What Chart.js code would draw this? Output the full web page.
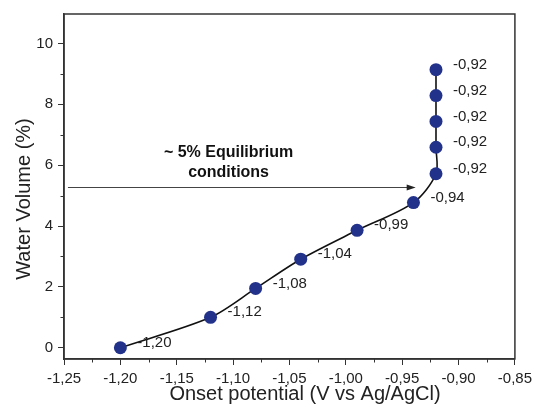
<!DOCTYPE html>
<html>
<head>
<meta charset="utf-8">
<script src="https://cdn.jsdelivr.net/npm/chart.js@4.4.0/dist/chart.umd.min.js"></script>
<style>
body { margin: 0; background: #fff; }
</style>
</head>
<body>
<canvas id="waterChart" width="537" height="410"></canvas>
<script>

/*
  data
*/

const potentials = [-1.20, -1.12, -1.08, -1.04, -0.99, -0.94, -0.92, -0.92, -0.92, -0.92, -0.92];

const waterVolumes = [0, 1.00, 1.95, 2.91, 3.86, 4.77, 5.72, 6.59, 7.44, 8.29, 9.14];

const pointLabels = ["-1,20", "-1,12", "-1,08", "-1,04", "-0,99", "-0,94", "-0,92", "-0,92", "-0,92", "-0,92", "-0,92"];

const xTickValues = [-1.25, -1.20, -1.15, -1.10, -1.05, -1.00, -0.95, -0.90, -0.85];
const xTickLabels = ["-1,25", "-1,20", "-1,15", "-1,10", "-1,05", "-1,00", "-0,95", "-0,90", "-0,85"];

const yTickValues = [0, 2, 4, 6, 8, 10];
const yTickLabels = ["0", "2", "4", "6", "8", "10"];

// arrow annotation
const arrowFromX = -1.2465;
const arrowToX = -0.938;
const arrowAtY = 5.27;
const noteLines = ["~ 5% Equilibrium", "conditions"];
const noteX = -1.104;
const noteY = [6.42, 5.76];

const xTitle = "Onset potential (V vs Ag/AgCl)";
const yTitle = "Water Volume (%)";

const FONT = "'Liberation Sans', Arial, sans-serif";
const INK = "#222";


// build points
let chartPoints = [];

potentials.forEach(function(x, i){
    chartPoints.push({ x: x, y: waterVolumes[i] });
});


// frame, minor ticks, labels, arrow, titles
const extrasPlugin = {
    id: "extras",
    afterDraw: function(chart){
        const c = chart.ctx;
        const area = chart.chartArea;
        const xs = chart.scales.x;
        const ys = chart.scales.y;

        c.save();

        // box
        c.strokeStyle = "#333";
        c.lineWidth = 1.5;
        c.strokeRect(area.left, area.top, area.right - area.left, area.bottom - area.top);

        // minor ticks
        c.lineWidth = 1;
        c.beginPath();
        for (let i = 0; i < xTickValues.length - 1; i++) {
            const px = Math.round(xs.getPixelForValue((xTickValues[i] + xTickValues[i + 1]) / 2)) + 0.5;
            c.moveTo(px, area.bottom);
            c.lineTo(px, area.bottom + 3.5);
        }
        for (let i = 0; i < yTickValues.length - 1; i++) {
            const py = Math.round(ys.getPixelForValue((yTickValues[i] + yTickValues[i + 1]) / 2)) + 0.5;
            c.moveTo(area.left, py);
            c.lineTo(area.left - 3.5, py);
        }
        c.stroke();

        // point labels
        c.fillStyle = INK;
        c.font = "15px " + FONT;
        c.textAlign = "left";
        c.textBaseline = "middle";
        chart.getDatasetMeta(0).data.forEach(function(pt, i){
            c.fillText(pointLabels[i], pt.x + 17, pt.y - 5);
        });

        // arrow
        const ax1 = xs.getPixelForValue(arrowFromX);
        const ax2 = xs.getPixelForValue(arrowToX);
        const ay = Math.round(ys.getPixelForValue(arrowAtY)) + 0.5;
        c.strokeStyle = "#444";
        c.lineWidth = 1;
        c.beginPath();
        c.moveTo(ax1, ay);
        c.lineTo(ax2 - 6, ay);
        c.stroke();
        c.fillStyle = "#222";
        c.beginPath();
        c.moveTo(ax2, ay);
        c.lineTo(ax2 - 9, ay - 3);
        c.lineTo(ax2 - 9, ay + 3);
        c.closePath();
        c.fill();

        // note text
        c.font = "bold 16px " + FONT;
        c.textAlign = "center";
        c.fillStyle = "#111";
        noteLines.forEach(function(t, i){
            c.fillText(t, xs.getPixelForValue(noteX), ys.getPixelForValue(noteY[i]));
        });

        // axis titles
        c.font = "20px " + FONT;
        c.fillStyle = INK;
        c.textBaseline = "alphabetic";
        c.fillText(xTitle, 305, 400);

        c.translate(30, 199);
        c.rotate(-Math.PI / 2);
        c.fillText(yTitle, 0, 0);

        c.restore();
    }
};


const ctx = document.getElementById("waterChart");

new Chart(ctx, {

    type: "line",

    data: {
        datasets: [{
            data: chartPoints,
            borderColor: "#111",
            borderWidth: 1.6,
            pointRadius: 6.5,
            pointBackgroundColor: "#22318a",
            pointBorderColor: "#22318a",
            pointBorderWidth: 0,
            tension: 0.3,
            fill: false
        }]
    },

    options: {
        responsive: false,
        animation: false,
        layout: {
            padding: { left: 0, right: 19, top: 13, bottom: 0 }
        },
        plugins: {
            legend: { display: false },
            tooltip: { enabled: false }
        },
        scales: {
            x: {
                type: "linear",
                position: "bottom",
                min: -1.25,
                max: -0.85,
                grid: { drawOnChartArea: false, tickLength: 6, tickColor: "#333" },
                border: { color: "#333", width: 1.5 },
                afterBuildTicks: function(scale){
                    scale.ticks = xTickValues.map(function(v){ return { value: v }; });
                },
                afterFit: function(scale){
                    scale.height = 51;
                },
                ticks: {
                    autoSkip: false,
                    maxRotation: 0,
                    padding: 5,
                    color: INK,
                    font: { family: FONT, size: 15 },
                    callback: function(value, index){
                        return xTickLabels[index];
                    }
                }
            },
            y: {
                type: "linear",
                position: "left",
                min: -0.37,
                max: 10.97,
                grid: { drawOnChartArea: false, tickLength: 6, tickColor: "#333" },
                border: { color: "#333", width: 1.5 },
                afterBuildTicks: function(scale){
                    scale.ticks = yTickValues.map(function(v){ return { value: v }; });
                },
                afterFit: function(scale){
                    scale.width = 64;
                },
                ticks: {
                    autoSkip: false,
                    padding: 5,
                    color: INK,
                    font: { family: FONT, size: 15 },
                    callback: function(value, index){
                        return yTickLabels[index];
                    }
                }
            }
        }
    },

    plugins: [extrasPlugin]

});

</script>
</body>
</html>
